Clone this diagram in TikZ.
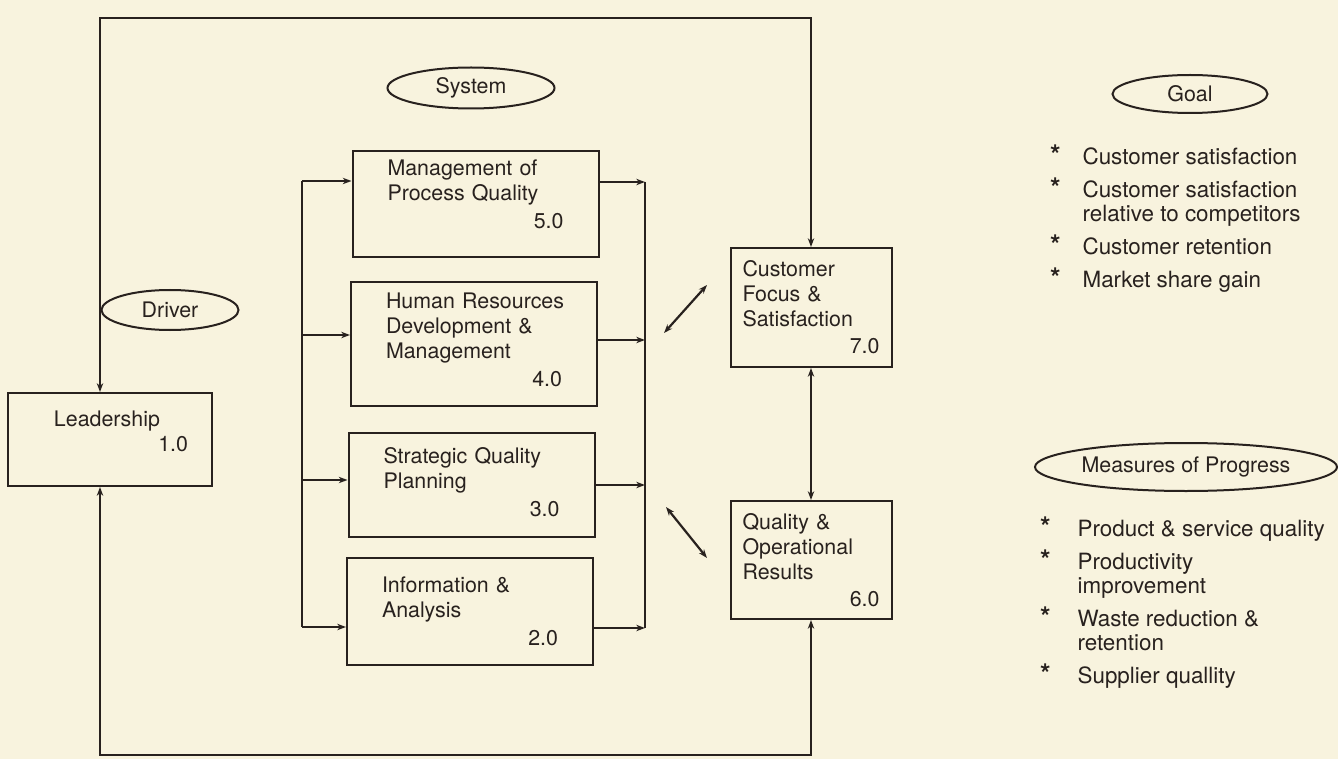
\documentclass[tikz,border=0pt]{standalone}
\usepackage{fontspec}
\setmainfont{TeX Gyre Heros}
\usetikzlibrary{arrows.meta, shapes.geometric}
\definecolor{paper}{RGB}{248,243,222}
\definecolor{ink}{RGB}{40,33,30}
\newcommand{\boxfont}{\fontsize{10.7}{12.5}\selectfont}
\newcommand{\listfont}{\fontsize{11.2}{12}\selectfont}
\newcommand{\lift}[1]{\rule[-#1]{0pt}{#1}}
\newcommand{\bulletstar}{\raisebox{0pt}[0pt][0pt]{\fontsize{13.5}{12}\selectfont\textbf{*}}}

\begin{document}
\begin{tikzpicture}[x=0.5pt,y=-0.5pt,line width=1.1pt,draw=ink,text=ink,>={Stealth[length=4.4pt,width=3.2pt]}]
    \tikzstyle{block}=[rectangle,draw=ink,line width=1pt,align=left,font=\boxfont]
    \tikzstyle{system block}=[block,text width=88pt,inner xsep=17.5pt]
    \tikzstyle{result block}=[block,text width=68.5pt,inner xsep=6pt]
    \tikzstyle{tag}=[ellipse,draw=ink,line width=1pt,inner sep=0pt,font=\boxfont]
    \tikzstyle{bullets}=[anchor=base west,inner sep=0pt,font=\listfont]

    \fill[paper] (0,0) rectangle (1338,759);
    \useasboundingbox (0,0) rectangle (1338,759);

    % driver
    \node[block,text width=78pt,inner xsep=12pt,minimum height=46.5pt] (lead) at (110,439.5)
        {\hspace*{11pt}Leadership\\\hspace*{\fill}1.0\lift{8.5pt}};
    \node[tag,minimum width=68.5pt,minimum height=20pt] (driver) at (170,310) {Driver};

    % system
    \node[tag,minimum width=83.5pt,minimum height=20.5pt] (system) at (471,88) {System};
    \node[system block,minimum height=53pt] (pq) at (475.5,204)
        {Management of\\Process Quality\\[1.5pt]\hspace*{\fill}5.0\lift{10pt}};
    \node[system block,minimum height=62pt] (hr) at (474,344)
        {\mbox{Human Resources}\\Development \&\\Management\\[1.5pt]\hspace*{\fill}4.0\lift{4.5pt}};
    \node[system block,minimum height=52pt] (sq) at (471.5,485)
        {Strategic Quality\\Planning\\[1.5pt]\hspace*{\fill}3.0\lift{2.5pt}};
    \node[system block,minimum height=53.5pt] (ia) at (470,611.5)
        {Information \&\\Analysis\\[1.5pt]\hspace*{\fill}2.0};

    % results
    \node[result block,minimum height=59.5pt] (cust) at (811,307.5)
        {Customer\\Focus \&\\Satisfaction\\[1pt]\hspace*{\fill}7.0};
    \node[result block,minimum height=59pt] (qual) at (811,560)
        {Quality \&\\Operational\\Results\\[1pt]\hspace*{\fill}6.0};

    % goal and measures
    \node[tag,minimum width=77.5pt,minimum height=19pt] (goal) at (1190,94) {Goal};
    \node[bullets] (goals) at (1049,165) {\begin{tabular}[t]{@{}l@{\hspace{11pt}}l@{}}
        \bulletstar&Customer satisfaction\\[4.5pt]
        \bulletstar&Customer satisfaction\\
         &relative to competitors\\[4.5pt]
        \bulletstar&Customer retention\\[4.5pt]
        \bulletstar&Market share gain
        \end{tabular}};
    \node[tag,minimum width=151pt,minimum height=24pt] (measures) at (1186,467) {Measures of Progress};
    \node[bullets] (progress) at (1039,536) {\begin{tabular}[t]{@{}l@{\hspace{13.5pt}}l@{}}
        \bulletstar&Product \& service quality\\[4.5pt]
        \bulletstar&Productivity\\
         &improvement\\[4.5pt]
        \bulletstar&Waste reduction \&\\
         &retention\\[4.5pt]
        \bulletstar&Supplier quallity
        \end{tabular}};

    % bus taps
    \coordinate (l5) at (302,181);
    \coordinate (l4) at (302,335);
    \coordinate (l3) at (302,480);
    \coordinate (l2) at (302,627);
    \coordinate (r5) at (645,182);
    \coordinate (r4) at (645,340);
    \coordinate (r3) at (645,485);
    \coordinate (r2) at (645,628);
    \coordinate (lt) at (100,18);
    \coordinate (rt) at (811,18);
    \coordinate (lb) at (100,755);
    \coordinate (rb) at (811,755);

    \draw (l5) -- (l2);
    \draw[->] (l5) -- (l5 -| pq.west);
    \draw[->] (l4) -- (l4 -| hr.west);
    \draw[->] (l3) -- (l3 -| sq.west);
    \draw[->] (l2) -- (l2 -| ia.west);

    \draw (r5) -- (r2);
    \draw[->] (r5 -| pq.east) -- (r5);
    \draw[->] (r4 -| hr.east) -- (r4);
    \draw[->] (r3 -| sq.east) -- (r3);
    \draw[->] (r2 -| ia.east) -- (r2);

    % system to results
    \coordinate (d1a) at (664,333);
    \coordinate (d1b) at (707,285);
    \coordinate (d2a) at (666,507);
    \coordinate (d2b) at (707,558);
    \draw[<->] (d1a) -- (d1b);
    \draw[<->] (d2a) -- (d2b);

    % feedback loops
    \draw[<->] (lead.north -| lt) -- (lt) -- (rt) -- (cust.north);
    \draw[<->] (lead.south -| lb) -- (lb) -- (rb) -- (qual.south);
    \draw[<->] (cust.south) -- (qual.north);
\end{tikzpicture}
\end{document}
